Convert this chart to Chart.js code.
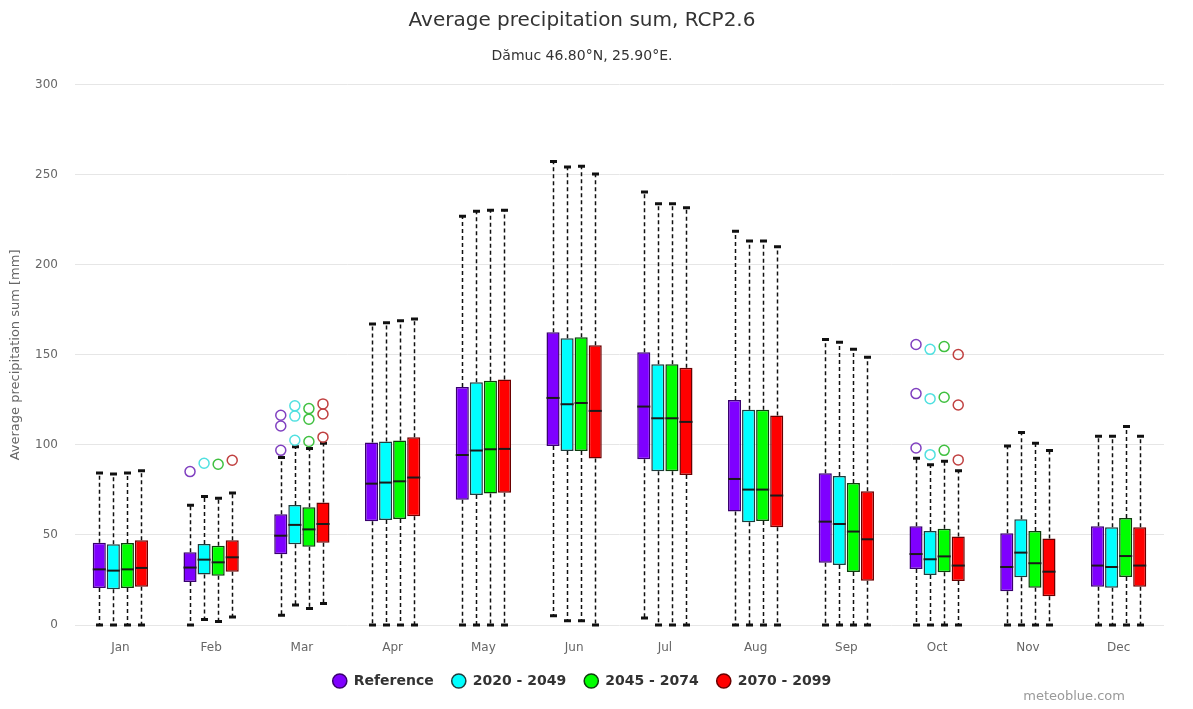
<!DOCTYPE html>
<html>
<head>
<meta charset="utf-8">
<script src="https://cdn.jsdelivr.net/npm/chart.js@4.4.1/dist/chart.umd.min.js"></script>
<style>
  html, body { margin: 0; padding: 0; background: #fff; }
  #wrap { position: relative; width: 1193px; height: 709px; }
  #credit {
    position: absolute; right: 68px; top: 688px;
    font: 13px "DejaVu Sans", sans-serif; color: #999;
  }
</style>
</head>
<body>
<div id="wrap">
  <canvas id="chart" width="1193" height="709"></canvas>
  <div id="credit">meteoblue.com</div>
</div>
<script>
// months on the x axis
const months = ['Jan', 'Feb', 'Mar', 'Apr', 'May', 'Jun', 'Jul', 'Aug', 'Sep', 'Oct', 'Nov', 'Dec'];
const seriesNames = ['Reference', '2020 - 2049', '2045 - 2074', '2070 - 2099'];

// [min, q1, median, q3, max] per month, mm
const refStats = [
    [0, 20.5, 30.9, 45.7, 84.4], [0, 23.9, 31.9, 40.4, 66.5], [5.4, 39.3, 49.6, 61.5, 93],
    [0, 57.6, 78.5, 101.3, 167.2], [0, 69.6, 94.4, 132.2, 227], [5.2, 99.4, 126.1, 162.6, 257.4],
    [3.9, 92, 121.3, 151.5, 240.4], [0, 63, 81.1, 125, 218.7], [0, 34.6, 57.4, 84.3, 158.5],
    [0, 31.1, 39.4, 54.8, 92.6], [0, 18.7, 32.2, 50.9, 99.4], [0, 21.3, 33, 54.8, 104.8]
];
const p1Stats = [
    [0, 19.8, 30.2, 44.8, 83.9], [3.1, 28, 36.3, 45, 71.3], [11.1, 44.8, 55.6, 66.7, 99],
    [0, 58.3, 79.1, 101.9, 167.8], [0, 72.2, 96.9, 134.8, 229.8], [2.4, 96.7, 122.6, 159.3, 254.3],
    [0, 85.4, 114.8, 144.8, 233.9], [0, 57, 75.2, 119.6, 213.3], [0, 33.3, 56.1, 82.8, 157],
    [0, 27.8, 36.5, 52.2, 89], [0, 26.5, 40.2, 58.7, 106.9], [0, 20.7, 32.2, 54.3, 104.8]
];
const p2Stats = [
    [0, 20.5, 30.9, 45.5, 84.4], [2, 27.4, 34.8, 44, 70.4], [9.1, 43.5, 53.1, 65.4, 98],
    [0, 58.9, 79.8, 102.4, 168.9], [0, 73, 97.6, 135.6, 230.4], [2.4, 96.7, 123.3, 159.8, 254.8],
    [0, 85.4, 114.8, 144.8, 233.9], [0, 57.8, 75.2, 119.6, 213.3], [0, 29.4, 51.9, 78.9, 153.1],
    [0, 29.3, 38.1, 53.5, 90.9], [0, 20.7, 34.3, 52.2, 100.9], [0, 26.7, 38.3, 59.4, 110.2]
];
const p3Stats = [
    [0, 21.3, 31.7, 47, 85.7], [4.4, 29.6, 37.6, 47, 73.3], [11.9, 45.7, 56.1, 68, 101],
    [0, 60.4, 81.9, 104.3, 170], [0, 73.5, 97.8, 136.3, 230.4], [0, 92.4, 118.9, 155.4, 250.4],
    [0, 83.3, 112.8, 142.8, 231.7], [0, 54.3, 71.9, 116.3, 210], [0, 24.6, 47.6, 74.3, 148.7],
    [0, 24.4, 33, 49.1, 85.6], [0, 15.9, 29.6, 48.1, 96.9], [0, 21.3, 33, 54.3, 104.8]
];

// outliers per month
const refOutliers = [[], [85.2], [97, 110.5, 116.5], [], [], [], [], [], [], [98.3, 128.5, 155.8], [], []];
const p1Outliers = [[], [89.8], [102.6, 116, 121.7], [], [], [], [], [], [], [94.6, 125.7, 153.1], [], []];
const p2Outliers = [[], [89.3], [101.9, 114.3, 120.2], [], [], [], [], [], [], [97, 126.5, 154.6], [], []];
const p3Outliers = [[], [91.5], [104.3, 117.2, 122.8], [], [], [], [], [], [], [91.7, 122.2, 150.2], [], []];

const yTicks = [0, 50, 100, 150, 200, 250, 300];

const fillColors = ['#7f00ff', '#00ffff', '#00ff00', '#ff0000'];
const edgeColors = ['#3a0070', '#1f3d3d', '#0d3d0d', '#6a0000'];
const outlierColors = ['#8040c0', '#50e0e0', '#40c040', '#c04040'];

const allStats = [refStats, p1Stats, p2Stats, p3Stats];
const allOutliers = [refOutliers, p1Outliers, p2Outliers, p3Outliers];

/**
 * Dibuja bigotes, medianas y valores atípicos a partir de las barras
 */
const boxPlugin = {
    id: 'boxWhiskers',
    beforeDatasetsDraw(chart) {
        const ctx = chart.ctx;
        const y = chart.scales.y;
        ctx.save();
        chart.data.datasets.forEach((ds, di) => {
            const meta = chart.getDatasetMeta(di);
            meta.data.forEach((bar, i) => {
                const s = ds.stats[i];
                const x = Math.round(bar.x) + 0.5;
                ctx.strokeStyle = '#111';
                ctx.lineWidth = 1.5;
                ctx.setLineDash([4, 3]);
                ctx.beginPath();
                ctx.moveTo(x, y.getPixelForValue(s[3]));
                ctx.lineTo(x, y.getPixelForValue(s[4]));
                ctx.moveTo(x, y.getPixelForValue(s[1]));
                ctx.lineTo(x, y.getPixelForValue(s[0]));
                ctx.stroke();
                ctx.setLineDash([]);
                ctx.lineWidth = 3;
                ctx.beginPath();
                [s[0], s[4]].forEach(v => {
                    const py = y.getPixelForValue(v);
                    ctx.moveTo(x - 3.5, py);
                    ctx.lineTo(x + 3.5, py);
                });
                ctx.stroke();
            });
        });
        ctx.restore();
    },
    afterDatasetsDraw(chart) {
        const ctx = chart.ctx;
        const y = chart.scales.y;
        ctx.save();
        chart.data.datasets.forEach((ds, di) => {
            const meta = chart.getDatasetMeta(di);
            meta.data.forEach((bar, i) => {
                const s = ds.stats[i];
                const half = bar.width / 2;
                const py = y.getPixelForValue(s[2]);
                ctx.strokeStyle = '#1a1a1a';
                ctx.lineWidth = 2;
                ctx.beginPath();
                ctx.moveTo(bar.x - half, py);
                ctx.lineTo(bar.x + half, py);
                ctx.stroke();

                ctx.strokeStyle = outlierColors[di];
                ctx.lineWidth = 1.5;
                ds.outliers[i].forEach(v => {
                    ctx.beginPath();
                    ctx.arc(bar.x, y.getPixelForValue(v), 5, 0, Math.PI * 2);
                    ctx.stroke();
                });
            });
        });
        ctx.restore();
    }
};

const datasets = seriesNames.map((name, k) => ({
    label: name,
    data: allStats[k].map(s => [s[1], s[3]]),
    stats: allStats[k],
    outliers: allOutliers[k],
    backgroundColor: fillColors[k],
    borderColor: edgeColors[k],
    borderWidth: 1.5,
    borderSkipped: false,
    categoryPercentage: 0.62,
    barPercentage: 0.93
}));

new Chart(document.getElementById('chart').getContext('2d'), {
    type: 'bar',
    data: { labels: months, datasets },
    plugins: [boxPlugin],
    options: {
        responsive: false,
        animation: false,
        layout: { padding: { left: 0, right: 29, top: 0, bottom: 11 } },
        plugins: {
            title: {
                display: true,
                text: 'Average precipitation sum, RCP2.6',
                color: '#333',
                font: { family: 'DejaVu Sans', size: 20, weight: 'normal' },
                padding: { top: 9, bottom: 0 }
            },
            subtitle: {
                display: true,
                text: 'Dămuc 46.80°N, 25.90°E.',
                color: '#333',
                font: { family: 'DejaVu Sans', size: 14 },
                padding: { top: 15, bottom: 20 }
            },
            legend: {
                position: 'bottom',
                labels: {
                    usePointStyle: true,
                    pointStyle: 'circle',
                    boxHeight: 10,
                    padding: 18,
                    color: '#333',
                    font: { family: 'DejaVu Sans', size: 14, weight: 'bold' }
                }
            },
            tooltip: { enabled: false }
        },
        scales: {
            x: {
                grid: { display: false },
                border: { display: false },
                ticks: {
                    color: '#666',
                    padding: 8,
                    font: { family: 'DejaVu Sans', size: 12 }
                },
                afterFit: (scale) => { scale.height = 31; }
            },
            y: {
                min: 0,
                max: 300,
                afterBuildTicks: (scale) => { scale.ticks = yTicks.map(v => ({ value: v })); },
                grid: { color: '#e6e6e6', drawTicks: false },
                border: { display: false },
                ticks: {
                    color: '#666',
                    padding: 17,
                    font: { family: 'DejaVu Sans', size: 12 }
                },
                title: {
                    display: true,
                    text: 'Average precipitation sum [mm]',
                    color: '#666',
                    font: { family: 'DejaVu Sans', size: 13 },
                    padding: { top: 8, bottom: 0 }
                },
                afterFit: (scale) => { scale.width = 75; }
            }
        }
    }
});
</script>
</body>
</html>
